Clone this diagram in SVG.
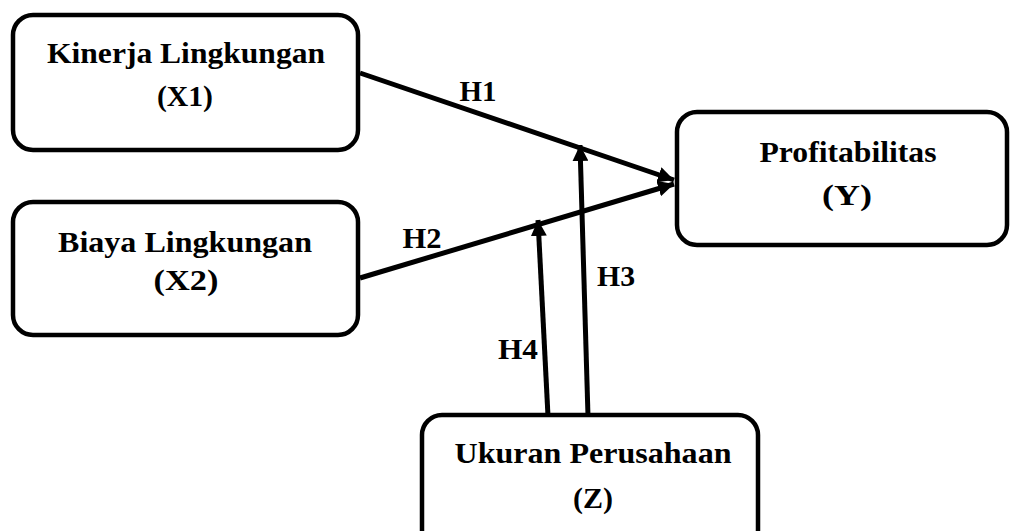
<svg xmlns="http://www.w3.org/2000/svg" width="1010" height="531" viewBox="0 0 1010 531">
<style>
.box{fill:#fff;stroke:#000;stroke-width:4.5}
.t{font-family:'Liberation Serif','Times New Roman','DejaVu Serif',serif;font-weight:700;font-size:29px;fill:#000;text-anchor:middle}
.c{stroke:#000;stroke-width:5;fill:none;marker-end:url(#ah)}
</style>
<defs>
<marker id="ah" markerUnits="userSpaceOnUse" markerWidth="18" markerHeight="16" refX="16" refY="8" orient="auto">
<path d="M0,0 L16,8 L0,16 Z" fill="#000"/>
</marker>
</defs>
<rect width="1010" height="531" fill="#fff"/>
<g id="connectors">
<line class="c" x1="360" y1="73" x2="674" y2="180"/>
<line class="c" x1="360" y1="278" x2="674" y2="184"/>
<line class="c" x1="588" y1="416" x2="580" y2="145"/>
<line class="c" x1="548" y1="416" x2="538" y2="220"/>
<text class="t" x="478" y="101" textLength="37" lengthAdjust="spacingAndGlyphs">H1</text>
<text class="t" x="422" y="248" textLength="39" lengthAdjust="spacingAndGlyphs">H2</text>
<text class="t" x="616" y="286" textLength="38" lengthAdjust="spacingAndGlyphs">H3</text>
<text class="t" x="518" y="359" textLength="40" lengthAdjust="spacingAndGlyphs">H4</text>
</g>
<g id="node-x1">
<rect class="box" x="13" y="15" width="345" height="135" rx="20"/>
<text class="t" x="186" y="63" textLength="278" lengthAdjust="spacingAndGlyphs">Kinerja Lingkungan</text>
<text class="t" x="185" y="106" textLength="56" lengthAdjust="spacingAndGlyphs">(X1)</text>
</g>
<g id="node-x2">
<rect class="box" x="13" y="202" width="345" height="133" rx="20"/>
<text class="t" x="185" y="252" textLength="254" lengthAdjust="spacingAndGlyphs">Biaya Lingkungan</text>
<text class="t" x="186" y="290" textLength="65" lengthAdjust="spacingAndGlyphs">(X2)</text>
</g>
<g id="node-y">
<rect class="box" x="677" y="112" width="330" height="133" rx="20"/>
<text class="t" x="848" y="162" textLength="177" lengthAdjust="spacingAndGlyphs">Profitabilitas</text>
<text class="t" x="847" y="205" textLength="50" lengthAdjust="spacingAndGlyphs">(Y)</text>
</g>
<g id="node-z">
<rect class="box" x="422" y="415" width="336" height="135" rx="20"/>
<text class="t" x="593" y="463" textLength="277" lengthAdjust="spacingAndGlyphs">Ukuran Perusahaan</text>
<text class="t" x="593" y="508" textLength="40" lengthAdjust="spacingAndGlyphs">(Z)</text>
</g>
</svg>
